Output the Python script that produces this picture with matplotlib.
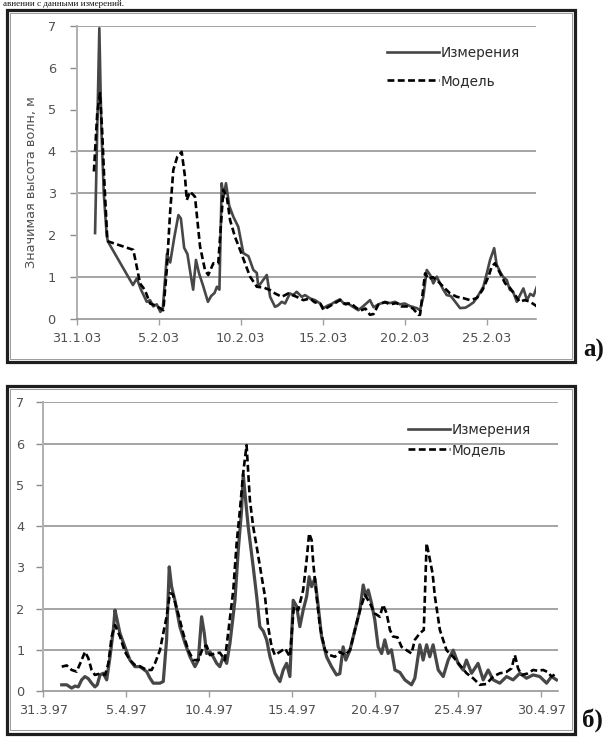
import matplotlib
matplotlib.use("Agg")
import matplotlib.pyplot as plt
from matplotlib.patches import Rectangle

# ---------------- data: panel a) (days after 31.1.03, metres) ----------------
a_meas_day = [1.12, 1.38, 1.50, 1.65, 1.83, 1.90, 3.43, 3.66, 3.92, 4.27, 4.47, 4.67, 4.88, 5.10, 5.25,
              5.50, 5.70, 5.95, 6.20, 6.35, 6.55, 6.75, 6.95, 7.10, 7.27, 7.45, 7.70, 8.00, 8.20, 8.40,
              8.55, 8.70, 8.84, 8.95, 9.10, 9.30, 9.55, 9.85, 10.16, 10.47, 10.77, 10.98, 11.07, 11.59,
              11.79, 12.09, 12.29, 12.50, 12.70, 13.00, 13.20, 13.41, 13.72, 13.92, 14.23, 14.53, 14.84,
              15.04, 15.30, 15.55, 15.75, 16.05, 16.30, 16.50, 16.80, 17.17, 17.45, 17.88, 18.10, 18.40,
              18.80, 19.10, 19.40, 19.70, 20.00, 20.30, 20.73, 20.93, 21.13, 21.34, 21.55, 21.74, 21.95,
              22.15, 22.35, 22.56, 22.80, 23.00, 23.37, 23.70, 23.95, 24.20, 24.49, 24.79, 25.00, 25.20,
              25.45, 25.60, 25.81, 26.00, 26.22, 26.40, 26.60, 26.83, 27.00, 27.23, 27.45, 27.65, 27.85,
              28.05]
a_meas_val = [2.05, 6.94, 4.60, 3.00, 2.00, 1.85, 0.81, 0.97, 0.70, 0.41, 0.45, 0.30, 0.35, 0.17, 0.25,
              1.55, 1.35, 1.95, 2.48, 2.40, 1.70, 1.55, 1.05, 0.70, 1.41, 1.10, 0.80, 0.41, 0.55, 0.62,
              0.77, 0.70, 3.24, 2.90, 3.24, 2.70, 2.44, 2.20, 1.57, 1.50, 1.17, 1.10, 0.77, 1.05,
              0.53, 0.29, 0.33, 0.41, 0.37, 0.61, 0.57, 0.65, 0.53, 0.57, 0.49, 0.45, 0.37,
              0.26, 0.32, 0.36, 0.41, 0.47, 0.36, 0.38, 0.30, 0.21, 0.30, 0.45, 0.28, 0.35,
              0.41, 0.38, 0.41, 0.35, 0.37, 0.31, 0.26, 0.21, 0.53, 1.17, 1.05, 0.85, 1.01,
              0.85, 0.70, 0.57, 0.55, 0.45, 0.26, 0.27, 0.33, 0.40, 0.57, 0.77, 1.09, 1.41,
              1.69, 1.30, 1.13, 1.00, 0.93, 0.70, 0.65, 0.41, 0.55, 0.73, 0.45, 0.60, 0.55,
              0.77]

a_model_day = [1.05, 1.25, 1.42, 1.55, 1.70, 1.87, 1.93, 3.45, 3.66, 3.86, 4.16, 4.47, 4.75, 5.08, 5.28,
               5.49, 5.69, 5.89, 6.13, 6.40, 6.60, 6.71, 6.91, 7.21, 7.52, 7.82, 8.02, 8.33, 8.63, 8.84,
               8.94, 9.15, 9.35, 9.65, 9.96, 10.26, 10.57, 10.98, 11.40, 11.79, 12.09, 12.50, 12.90,
               13.41, 13.82, 14.23, 14.50, 14.84, 15.04, 15.40, 15.75, 16.05, 16.40, 16.70, 17.00, 17.30,
               17.60, 17.88, 18.10, 18.40, 18.80, 19.10, 19.50, 19.80, 20.20, 20.50, 20.83, 20.93, 21.24,
               21.45, 21.70, 22.05, 22.40, 22.76, 23.17, 23.55, 23.98, 24.40, 24.75, 25.10, 25.30, 25.50,
               25.80, 26.12, 26.40, 26.73, 27.00, 27.30, 27.60, 27.95, 28.05]
a_model_val = [3.52, 4.90, 5.39, 4.50, 3.16, 1.88, 1.85, 1.65, 1.25, 0.85, 0.69, 0.37, 0.33, 0.26, 0.21,
               1.17, 2.52, 3.56, 3.87, 3.99, 3.40, 2.84, 3.04, 2.92, 1.73, 1.17, 1.05, 1.33, 1.33, 2.52,
               3.08, 2.92, 2.36, 1.96, 1.65, 1.33, 1.01, 0.77, 0.75, 0.69, 0.61, 0.53, 0.61,
               0.53, 0.45, 0.49, 0.40, 0.37, 0.22, 0.30, 0.38, 0.45, 0.35, 0.38, 0.28, 0.20,
               0.25, 0.10, 0.12, 0.35, 0.40, 0.35, 0.38, 0.30, 0.30, 0.25, 0.10, 0.10, 1.09,
               0.95, 1.00, 0.89, 0.75, 0.61, 0.53, 0.50, 0.45, 0.50, 0.70, 1.01, 1.25, 1.33,
               1.10, 0.85, 0.75, 0.57, 0.41, 0.45, 0.42, 0.33, 0.30]

a_tick_days = [0, 5, 10, 15, 20, 25]
a_tick_labels = ["31.1.03", "5.2.03", "10.2.03", "15.2.03", "20.2.03", "25.2.03"]
a_xmax = 28
a_grid_levels = [1, 3, 4, 7]

# ---------------- data: panel б) (days after 31.3.97, metres) ----------------
b_meas_day = [1.11, 1.41, 1.71, 1.91, 2.11, 2.31, 2.51, 2.71, 2.91, 3.11, 3.25, 3.42, 3.61, 3.82, 4.02,
              4.22, 4.32, 4.45, 4.62, 4.92, 5.22, 5.52, 5.82, 6.23, 6.43, 6.63, 7.03, 7.23, 7.43, 7.59,
              7.73, 7.93, 8.23, 8.54, 8.84, 9.14, 9.34, 9.54, 9.70, 9.84, 10.04, 10.24, 10.45, 10.64,
              10.84, 11.05, 11.25, 11.55, 11.75, 11.95, 12.05, 12.20, 12.35, 12.65, 12.86, 13.05, 13.26,
              13.46, 13.66, 13.96, 14.26, 14.46, 14.66, 14.86, 15.06, 15.27, 15.46, 15.66, 15.87, 16.02,
              16.17, 16.37, 16.57, 16.77, 17.07, 17.37, 17.67, 17.87, 18.07, 18.23, 18.48, 18.78, 19.08,
              19.28, 19.44, 19.58, 19.78, 19.98, 20.18, 20.39, 20.58, 20.78, 20.98, 21.19, 21.49, 21.79,
              22.19, 22.39, 22.69, 22.89, 23.10, 23.29, 23.49, 23.80, 24.10, 24.40, 24.70, 25.00, 25.30,
              25.50, 25.81, 26.20, 26.51, 26.81, 27.11, 27.51, 27.92, 28.31, 28.72, 29.12, 29.52, 29.92,
              30.33, 30.63, 30.93]
b_meas_val = [0.15, 0.15, 0.07, 0.12, 0.10, 0.27, 0.35, 0.30, 0.19, 0.10, 0.15, 0.39, 0.43, 0.27, 0.83,
              1.48, 1.96, 1.72, 1.40, 1.07, 0.75, 0.59, 0.59, 0.47, 0.31, 0.19, 0.19, 0.23, 1.24, 3.01,
              2.53, 2.20, 1.56, 1.16, 0.83, 0.59, 0.75, 1.80, 1.40, 0.91, 0.95, 0.83, 0.67, 0.59,
              0.83, 0.67, 1.16, 2.20, 3.42, 4.39, 5.25, 4.60, 3.98, 3.01, 2.29, 1.56, 1.45,
              1.24, 0.83, 0.43, 0.23, 0.51, 0.67, 0.35, 2.20, 2.05, 1.56, 1.96, 2.29, 2.77,
              2.53, 2.73, 2.05, 1.32, 0.83, 0.59, 0.39, 0.42, 1.07, 0.75, 0.99, 1.48, 1.96,
              2.57, 2.29, 2.45, 2.13, 1.72, 1.07, 0.91, 1.24, 0.91, 1.00, 0.51, 0.45, 0.27,
              0.15, 0.31, 1.12, 0.75, 1.12, 0.83, 1.12, 0.51, 0.35, 0.75, 0.99, 0.67, 0.51,
              0.75, 0.43, 0.67, 0.27, 0.51, 0.27, 0.19, 0.35, 0.27, 0.43, 0.31, 0.39, 0.35,
              0.19, 0.35, 0.27]

b_model_day = [1.11, 1.41, 1.71, 2.01, 2.31, 2.51, 2.71, 2.91, 3.11, 3.41, 3.72, 3.92, 4.12, 4.32, 4.62,
               4.92, 5.22, 5.52, 5.82, 6.23, 6.53, 6.73, 7.03, 7.23, 7.43, 7.63, 7.80, 8.13, 8.43, 8.73,
               9.04, 9.34, 9.64, 9.84, 10.04, 10.34, 10.64, 10.94, 11.14, 11.45, 11.65, 11.85, 12.05,
               12.25, 12.45, 12.65, 12.86, 13.16, 13.36, 13.55, 13.76, 13.96, 14.26, 14.57, 14.86, 15.10,
               15.36, 15.66, 15.87, 16.02, 16.17, 16.27, 16.47, 16.67, 16.97, 17.27, 17.57, 17.87, 18.17,
               18.48, 18.78, 19.08, 19.38, 19.68, 19.98, 20.28, 20.48, 20.69, 20.89, 21.08, 21.35, 21.59,
               21.89, 22.19, 22.39, 22.69, 22.93, 23.10, 23.30, 23.46, 23.60, 23.90, 24.30, 24.70, 25.10,
               25.51, 25.90, 26.31, 26.70, 27.11, 27.51, 27.90, 28.22, 28.42, 28.61, 28.82, 29.15, 29.52,
               29.80, 30.12, 30.40, 30.63, 30.93]
b_model_val = [0.59, 0.62, 0.51, 0.47, 0.75, 0.95, 0.80, 0.51, 0.39, 0.42, 0.39, 0.67, 1.32, 1.60, 1.32,
               0.95, 0.75, 0.63, 0.60, 0.51, 0.51, 0.67, 0.99, 1.40, 1.80, 2.37, 2.35, 1.88, 1.40, 0.99,
               0.75, 0.75, 1.07, 1.10, 0.87, 0.91, 0.93, 0.75, 1.40, 2.45, 3.58, 4.39, 5.30,
               5.96, 4.63, 3.98, 3.50, 2.77, 2.29, 1.56, 1.07, 0.87, 0.95, 1.03, 0.83, 2.05,
               1.96, 2.45, 3.18, 3.82, 3.66, 3.10, 2.29, 1.56, 0.99, 0.87, 0.83, 0.95, 0.87,
               0.99, 1.48, 1.96, 2.33, 2.13, 1.88, 1.80, 2.09, 1.88, 1.48, 1.32, 1.30, 1.07,
               0.99, 0.91, 1.24, 1.40, 1.48, 3.58, 3.18, 2.85, 2.29, 1.48, 0.99, 0.83, 0.63,
               0.43, 0.31, 0.15, 0.17, 0.35, 0.43, 0.46, 0.55, 0.87, 0.55, 0.39, 0.42, 0.51,
               0.49, 0.51, 0.46, 0.35, 0.43]

b_tick_days = [0, 5, 10, 15, 20, 25, 30]
b_tick_labels = ["31.3.97", "5.4.97", "10.4.97", "15.4.97", "20.4.97", "25.4.97", "30.4.97"]
b_xmax = 31
b_grid_levels = [1, 2, 4, 6, 7]

y_ticks = [0, 1, 2, 3, 4, 5, 6, 7]
label_meas = "Измерения"
label_model = "Модель"
y_label = "Значимая высота волн, м"
header_text = "авнении с данными измерений."

# ---------------- layout ----------------
W, H = 615, 738
fig = plt.figure(figsize=(W / 100, H / 100), dpi=100)
fig.patch.set_facecolor("white")


def fx(px):
    return px / W


def fy(py):
    return 1 - py / H


TICK_FONT = "DejaVu Sans"
TICK_SIZE = 9.3
LEG_SIZE = 9.8
TICK_COLOR = "#505050"
MEAS_COLOR = "#474747"
AX_COLOR = "#8c8c8c"


def frame(x0, y0, x1, y1):
    fig.add_artist(Rectangle((fx(x0), fy(y1)), fx(x1) - fx(x0), fy(y0) - fy(y1),
                             transform=fig.transFigure, fill=False, ec="#1e1e1e", lw=2.3))
    fig.add_artist(Rectangle((fx(x0 + 3.5), fy(y1 - 3.5)), fx(x1 - 3.5) - fx(x0 + 3.5),
                             fy(y0 + 3.5) - fy(y1 - 3.5),
                             transform=fig.transFigure, fill=False, ec="#9a9a9a", lw=0.7))


def panel(rect, mday, mval, dday, dval, tdays, tlabels, xmax, grid_levels, ypad,
          legend_xy, handle_len, spacing):
    ax = fig.add_axes(rect)
    ax.set_xlim(0, xmax)
    ax.set_ylim(0, 7)
    for g in grid_levels:
        ax.axhline(g, color=AX_COLOR, lw=1.1, zorder=1)
    ax.plot(mday, mval, color=MEAS_COLOR, lw=1.9, label=label_meas, zorder=3,
            solid_joinstyle="round")
    ax.plot(dday, dval, color="black", lw=1.9, ls=(0, (2.6, 1.3)), label=label_model, zorder=4)
    ax.set_xticks(tdays)
    ax.set_xticklabels(tlabels)
    ax.set_yticks(y_ticks)
    for s in ("top", "right"):
        ax.spines[s].set_visible(False)
    ax.spines["left"].set_color("#b0b0b0")
    ax.spines["left"].set_linewidth(1.4)
    ax.spines["bottom"].set_color(AX_COLOR)
    ax.spines["bottom"].set_linewidth(1.1)
    ax.tick_params(axis="x", length=4.3, width=1.0, color="#a0a0a0", pad=5.0,
                   labelsize=TICK_SIZE, labelcolor=TICK_COLOR)
    ax.tick_params(axis="y", length=5, width=1.0, color=AX_COLOR, pad=ypad,
                   labelsize=TICK_SIZE, labelcolor=TICK_COLOR)
    for t in ax.get_xticklabels() + ax.get_yticklabels():
        t.set_fontfamily(TICK_FONT)
    ax.set_facecolor("none")
    leg = ax.legend(loc="upper left", bbox_to_anchor=legend_xy, bbox_transform=fig.transFigure,
                    frameon=False, borderpad=0, borderaxespad=0, handlelength=handle_len,
                    handletextpad=0.1, labelspacing=spacing,
                    prop={"family": TICK_FONT, "size": LEG_SIZE})
    for t in leg.get_texts():
        t.set_color("#2a2a2a")
    return ax


# frames
frame(6.5, 9.5, 575, 362)
frame(6.5, 386, 575, 733.5)

# panel a
ax_a = panel([fx(76.7), fy(319), fx(536) - fx(76.7), fy(25.7) - fy(319)],
             a_meas_day, a_meas_val, a_model_day, a_model_val,
             a_tick_days, a_tick_labels, a_xmax, a_grid_levels, 10.0,
             (fx(387), fy(46)), 3.85, 1.0)
ax_a.set_ylabel(y_label, fontsize=TICK_SIZE, color=TICK_COLOR, family=TICK_FONT)
ax_a.yaxis.set_label_coords(fx(38), fy(182), transform=fig.transFigure)

# panel b
ax_b = panel([fx(43.3), fy(691), fx(557.7) - fx(43.3), fy(402.3) - fy(691)],
             b_meas_day, b_meas_val, b_model_day, b_model_val,
             b_tick_days, b_tick_labels, b_xmax, b_grid_levels, 8.5,
             (fx(408), fy(423)), 3.1, 0.45)
for line in ax_b.get_lines():
    if line.get_label() == label_meas:
        line.set_linewidth(2.3)

# panel letters and header text line
fig.text(fx(583), fy(357), "а)", fontsize=18, fontweight="bold", family="Liberation Serif",
         va="baseline", ha="left", color="#111111")
fig.text(fx(582), fy(727), "б)", fontsize=18, fontweight="bold", family="Liberation Serif",
         va="baseline", ha="left", color="#111111")
fig.text(fx(3), fy(6.5), header_text, fontsize=6.5, family="Liberation Serif",
         va="baseline", ha="left", color="#111111")

fig.savefig("out.png", dpi=100)
